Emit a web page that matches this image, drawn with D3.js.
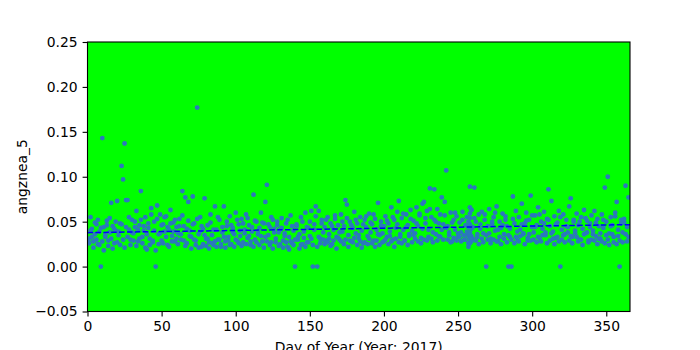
<!DOCTYPE html>
<html lang="en">
<head>
    <meta charset="UTF-8">
    <title>angznea_5 2017</title>
    <script src="https://d3js.org/d3.v7.min.js"></script>
    <style>
        body { margin: 0; background: white; }
        text { font-family: "DejaVu Sans", sans-serif; fill: black; }
    </style>
</head>
<body>
<svg id="svg1" width="700" height="350" style="background:white;"></svg>
<script>
    // data ------------------------------------------------------------
    const xTicks = [0, 50, 100, 150, 200, 250, 300, 350];
    const yTicks = [-0.05, 0, 0.05, 0.10, 0.15, 0.20, 0.25];
    const xLabel = "Day of Year (Year: 2017)";
    const yLabel = "angznea_5";

    // first reading of each day, day 1..365
    const valsA = [
        .031,.055,.042,.028,.036,.047,.025,.039,.000,.143,
        .044,.033,.051,.029,.038,.071,.045,.026,.040,.073,
        .035,.048,.112,.097,.137,.074,.074,.041,.030,.052,
        .037,.044,.062,.028,.046,.084,.033,.040,.055,.019,
        .043,.031,.065,.027,.050,.000,.068,.036,.058,.029,
        .047,.039,.056,.024,.041,.063,.034,.049,.028,.044,
        .037,.053,.030,.084,.045,.077,.026,.072,.040,.033,
        .078,.048,.029,.177,.036,.055,.022,.042,.076,.031,
        .046,.027,.058,.035,.024,.067,.041,.030,.052,.022,
        .038,.067,.028,.045,.033,.056,.025,.043,.036,.060,
        .029,.047,.034,.053,.027,.041,.058,.032,.046,.024,
        .039,.080,.030,.050,.036,.043,.060,.028,.048,.072,
        .091,.035,.044,.027,.052,.038,.031,.046,.023,.041,
        .054,.029,.037,.048,.022,.033,.057,.026,.040,.000,
        .045,.030,.036,.024,.050,.039,.060,.027,.043,.034,
        .062,.000,.047,.067,.000,.062,.031,.052,.038,.044,
        .029,.055,.036,.048,.025,.041,.053,.033,.046,.030,
        .058,.039,.045,.074,.069,.035,.050,.028,.043,.061,
        .037,.048,.031,.055,.040,.026,.052,.044,.034,.059,
        .038,.047,.029,.053,.041,.071,.035,.050,.027,.045,
        .056,.033,.048,.039,.066,.030,.052,.043,.061,.073,
        .036,.054,.041,.029,.058,.046,.034,.063,.040,.051,
        .037,.066,.045,.059,.032,.070,.072,.048,.062,.041,
        .087,.055,.038,.086,.050,.064,.034,.058,.077,.047,
        .072,.107,.045,.035,.060,.028,.052,.041,.056,.033,
        .049,.038,.061,.030,.046,.055,.036,.089,.063,.044,
        .088,.050,.033,.058,.042,.061,.037,.052,.000,.045,
        .064,.031,.047,.055,.040,.067,.028,.050,.043,.059,
        .036,.052,.045,.000,.033,.000,.078,.048,.062,.030,
        .055,.041,.070,.036,.048,.060,.029,.052,.079,.044,
        .038,.057,.046,.066,.031,.050,.042,.061,.035,.053,
        .086,.045,.073,.039,.056,.032,.049,.062,.000,.041,
        .058,.036,.052,.044,.067,.076,.033,.050,.040,.059,
        .046,.030,.055,.042,.063,.037,.051,.029,.048,.057,
        .040,.062,.034,.053,.045,.031,.058,.043,.088,.050,
        .100,.037,.055,.046,.033,.060,.072,.041,.000,.052,
        .038,.049,.090,.044,.077
    ];

    // second reading of each day, day 1..365
    const valsB = [
        .026,.040,.033,.021,.049,.030,.052,.024,.043,.028,
        .018,.035,.046,.023,.054,.031,.020,.042,.050,.027,
        .039,.024,.047,.030,.021,.044,.033,.055,.024,.038,
        .029,.050,.023,.041,.031,.052,.026,.045,.021,.036,
        .048,.024,.058,.029,.040,.018,.053,.025,.037,.046,
        .026,.055,.033,.044,.022,.048,.028,.039,.052,.031,
        .025,.045,.036,.057,.029,.023,.042,.051,.034,.020,
        .047,.030,.024,.053,.021,.039,.045,.025,.035,.023,
        .031,.020,.049,.026,.041,.028,.022,.055,.030,.025,
        .044,.033,.021,.050,.029,.024,.046,.038,.022,.030,
        .052,.026,.040,.023,.048,.037,.025,.054,.034,.028,
        .044,.022,.051,.027,.039,.024,.034,.049,.021,.033,
        .028,.047,.024,.055,.020,.042,.027,.050,.038,.025,
        .043,.021,.034,.027,.052,.019,.028,.045,.024,.030,
        .047,.033,.020,.055,.025,.032,.022,.044,.027,.050,
        .031,.024,.041,.056,.022,.033,.026,.048,.030,.025,
        .052,.027,.031,.023,.045,.029,.057,.020,.032,.038,
        .028,.050,.025,.030,.054,.022,.029,.046,.027,.032,
        .052,.024,.035,.028,.021,.047,.027,.056,.025,.031,
        .049,.026,.058,.022,.029,.036,.024,.045,.037,.028,
        .030,.051,.025,.034,.028,.055,.022,.031,.047,.027,
        .033,.026,.059,.029,.044,.024,.036,.053,.027,.035,
        .031,.048,.028,.057,.026,.042,.030,.054,.029,.033,
        .064,.031,.027,.052,.036,.029,.048,.033,.041,.030,
        .057,.043,.030,.038,.027,.049,.032,.060,.029,.037,
        .033,.028,.052,.035,.030,.039,.026,.045,.034,.031,
        .054,.029,.036,.025,.047,.031,.027,.058,.035,.030,
        .037,.026,.050,.030,.060,.028,.041,.033,.025,.046,
        .031,.056,.027,.035,.042,.030,.053,.026,.033,.039,
        .028,.034,.047,.037,.025,.051,.032,.036,.029,.057,
        .030,.044,.027,.033,.058,.028,.035,.048,.038,.026,
        .052,.029,.037,.031,.025,.047,.033,.028,.055,.030,
        .035,.027,.045,.038,.029,.034,.026,.052,.037,.033,
        .028,.050,.030,.024,.036,.054,.038,.027,.044,.030,
        .036,.029,.049,.025,.031,.037,.028,.052,.026,.035,
        .030,.024,.045,.036,.027,.056,.025,.034,.029,.048,
        .027,.053,.036,.028,.033
    ];

    // the dense column of readings near day 258
    const extraDays = [257, 258, 258, 257, 258, 259, 258, 257, 258, 258, 259, 258, 257, 258, 259];
    const extraVals = [.022, .026, .031, .034, .038, .042, .047, .050, .054, .059, .063, .066, .044, .036, .028];

    // linear trend, ends of the dashed line
    const trendDays = [0, 366];
    const trendVals = [0.0378, 0.0467];

    // svg configuration -------------------------------------------------
    const svg1 = d3.select("svg#svg1");
    const margin = {left: 87.5, right: 70, top: 42, bottom: 38.5};
    const chartWidth = 700 - margin.left - margin.right;
    const chartHeight = 350 - margin.top - margin.bottom;

    const xScale = d3.scaleLinear().domain([0, 366]).range([0, chartWidth]);
    const yScale = d3.scaleLinear().domain([-0.05, 0.25]).range([chartHeight, 0]);

    let points = [];
    valsA.forEach((v, i) => points.push({day: i + 1, val: v}));
    valsB.forEach((v, i) => points.push({day: i + 1, val: v}));
    extraVals.forEach((v, i) => points.push({day: extraDays[i], val: v}));

    svg1.append("defs").append("clipPath").attr("id", "clip")
        .append("rect").attr("width", chartWidth).attr("height", chartHeight);

    let chart = svg1.append("g")
        .attr("transform", `translate(${margin.left},${margin.top})`);

    chart.append("rect")
        .attr("width", chartWidth)
        .attr("height", chartHeight)
        .attr("fill", "#00ff00");

    let plot = chart.append("g").attr("clip-path", "url(#clip)");

    plot.selectAll("circle")
        .data(points)
        .join("circle")
        .attr("cx", d => xScale(d.day))
        .attr("cy", d => yScale(d.val))
        .attr("r", 2.4)
        .attr("fill", "#2b78bd");

    const lineGen = d3.line()
        .x((d, i) => xScale(trendDays[i]))
        .y(d => yScale(d));

    plot.append("path")
        .attr("d", lineGen(trendVals))
        .attr("fill", "none")
        .attr("stroke", "#0000ff")
        .attr("stroke-width", 1.5)
        .attr("stroke-dasharray", "5.5,2.4");

    // axes ---------------------------------------------------------------
    const fmt = d => d3.format(".2f")(d).replace("-", "\u2212");

    let xAxis = chart.append("g")
        .attr("transform", `translate(0,${chartHeight})`)
        .call(d3.axisBottom(xScale).tickValues(xTicks).tickSize(4.9).tickPadding(4.9).tickFormat(d3.format("d")));
    let yAxis = chart.append("g")
        .call(d3.axisLeft(yScale).tickValues(yTicks).tickSize(4.9).tickPadding(4.9).tickFormat(fmt));

    [xAxis, yAxis].forEach(ax => {
        ax.select(".domain").remove();
        ax.selectAll("line").attr("stroke", "black").attr("stroke-width", 1.1);
        ax.selectAll("text").style("font-size", "13.9px").style("font-family", "DejaVu Sans");
    });

    chart.append("rect")
        .attr("width", chartWidth)
        .attr("height", chartHeight)
        .attr("fill", "none")
        .attr("stroke", "black")
        .attr("stroke-width", 1.1);

    svg1.append("text")
        .attr("x", margin.left + chartWidth / 2)
        .attr("y", 352)
        .attr("text-anchor", "middle")
        .style("font-size", "13.9px")
        .text(xLabel);

    svg1.append("text")
        .attr("transform", `translate(27,${margin.top + chartHeight / 2}) rotate(-90)`)
        .attr("text-anchor", "middle")
        .style("font-size", "13.9px")
        .text(yLabel);
</script>
</body>
</html>
